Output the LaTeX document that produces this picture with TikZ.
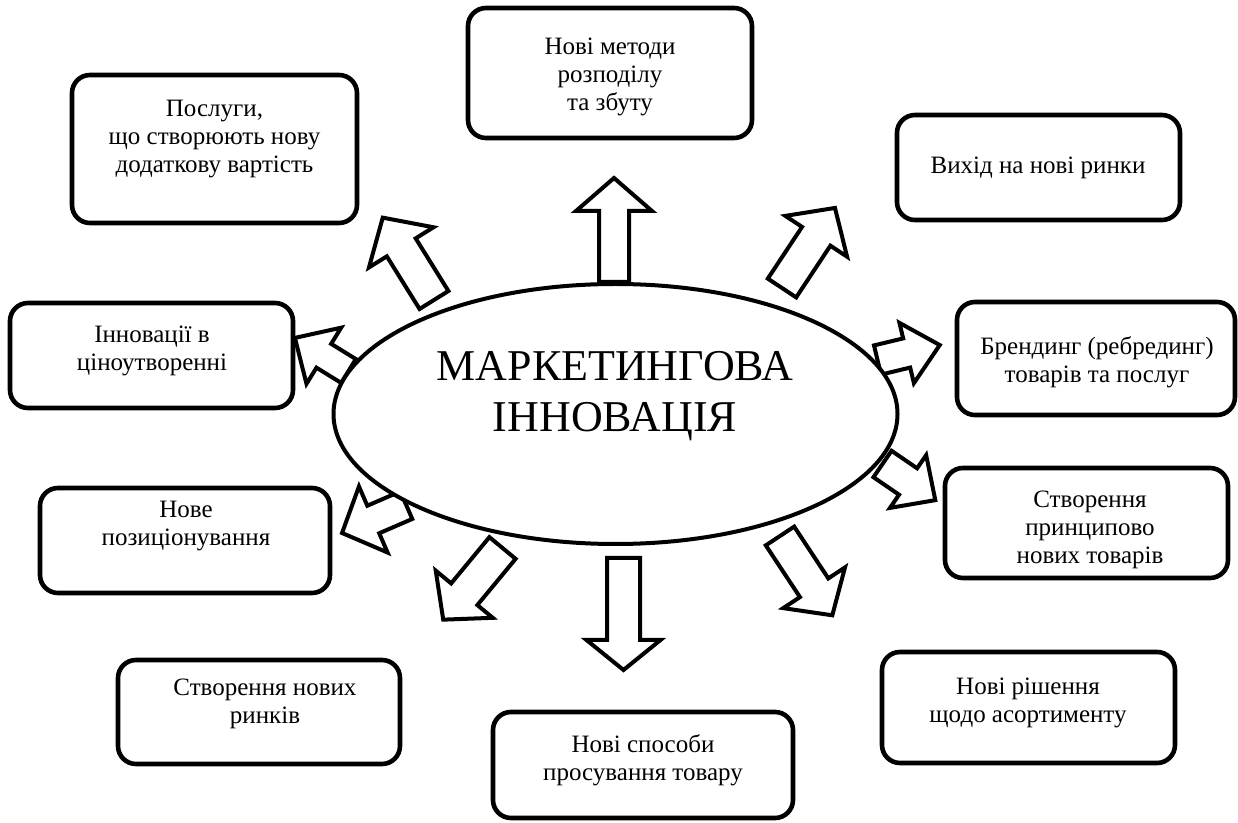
\documentclass[tikz,border=0pt]{standalone}
\usepackage{fontspec}
\setmainfont{Liberation Serif}
\usetikzlibrary{shapes.geometric}
\tikzset{
  box/.style={draw, line width=2.3pt, rounded corners=9pt, inner sep=0pt},
  txt/.style={align=center, inner sep=0pt, font=\fontsize{12.5}{14}\selectfont},
  barrow/.style={draw, line width=2pt, fill=white, line join=miter},
  ell/.style={ellipse, draw, line width=2pt, fill=white, inner sep=0pt}
}
\newcommand\blockarrow[7]{%
  \begin{scope}[shift={#2},rotate=#3]
    \draw[barrow] (0,-#5) -- ({#4-#7},-#5) -- ({#4-#7},-#6) -- (#4,0) coordinate (#1)
      -- ({#4-#7},#6) -- ({#4-#7},#5) -- (0,#5) -- cycle;
  \end{scope}}
\begin{document}
\begin{tikzpicture}[x=0.5pt,y=-0.5pt]
\useasboundingbox (0,0) rectangle (1238,823);
% boxes
\node[box, minimum width=142.5pt, minimum height=74pt] (b1) at (214.5,149) {};
\node[txt] (t1) at (214.5,139) {Послуги,\\що створюють нову\\додаткову вартість};
\node[box, minimum width=142pt, minimum height=65pt] (b2) at (610,73) {};
\node[txt] (t2) at (610,77) {Нові методи\\розподілу\\та збуту};
\node[box, minimum width=141.5pt, minimum height=52.5pt] (b3) at (1038.5,167.5) {};
\node[txt] (t3) at (1038,168) {Вихід на нові ринки};
\node[box, minimum width=141.5pt, minimum height=52.5pt] (b4) at (151.5,355.5) {};
\node[txt] (t4) at (152,351) {Інновації в\\ціноутворенні};
\node[box, minimum width=139pt, minimum height=56.5pt] (b5) at (1096,358.5) {};
\node[txt] (t5) at (1097,362) {Брендинг (ребрединг)\\товарів та послуг};
\node[box, minimum width=145pt, minimum height=52.5pt] (b6) at (185,540.5) {};
\node[txt] (t6) at (186,526) {Нове\\позиціонування};
\node[box, minimum width=141.5pt, minimum height=55pt] (b7) at (1086.5,523) {};
\node[txt] (t7) at (1090,530) {Створення\\принципово\\нових товарів};
\node[box, minimum width=141pt, minimum height=52pt] (b8) at (259,712) {};
\node[txt] (t8) at (265,704) {Створення нових\\ринків};
\node[box, minimum width=150pt, minimum height=53pt] (b9) at (643,765) {};
\node[txt] (t9) at (643,760) {Нові способи\\просування товару};
\node[box, minimum width=146.5pt, minimum height=55.5pt] (b10) at (1028.5,707.5) {};
\node[txt] (t10) at (1028,703) {Нові рішення\\щодо асортименту};
% block arrows
\blockarrow{aup}{(614,282)}{90}{104}{15}{38}{33}
\blockarrow{aul}{(434,300)}{121.9}{97}{17}{38}{35}
\blockarrow{aur}{(782,288)}{56.5}{96}{17}{37}{34}
\blockarrow{ar}{(877.5,360)}{13.5}{64}{15}{31}{34}
\blockarrow{ard}{(882.5,464)}{-34.4}{64}{16}{32}{33}
\blockarrow{adr}{(780,536)}{-56.6}{95}{17}{37}{33}
\blockarrow{adown}{(623.5,558)}{-90}{112}{16.5}{37}{30}
\blockarrow{adl}{(502.5,548)}{230.4}{93}{17}{37}{33}
\blockarrow{al2}{(406.3,505.2)}{203.4}{70}{15}{36}{34}
\blockarrow{al}{(348.5,371)}{148.3}{63}{14}{33}{34}
% central ellipse
\node[ell, minimum width=282pt, minimum height=130pt] (e) at (615.5,414) {};
\node[align=center, inner sep=0pt, font=\fontsize{22}{25.5}\selectfont] (title) at (615,396) {МАРКЕТИНГОВА\\ІННОВАЦІЯ};
\end{tikzpicture}
\end{document}
